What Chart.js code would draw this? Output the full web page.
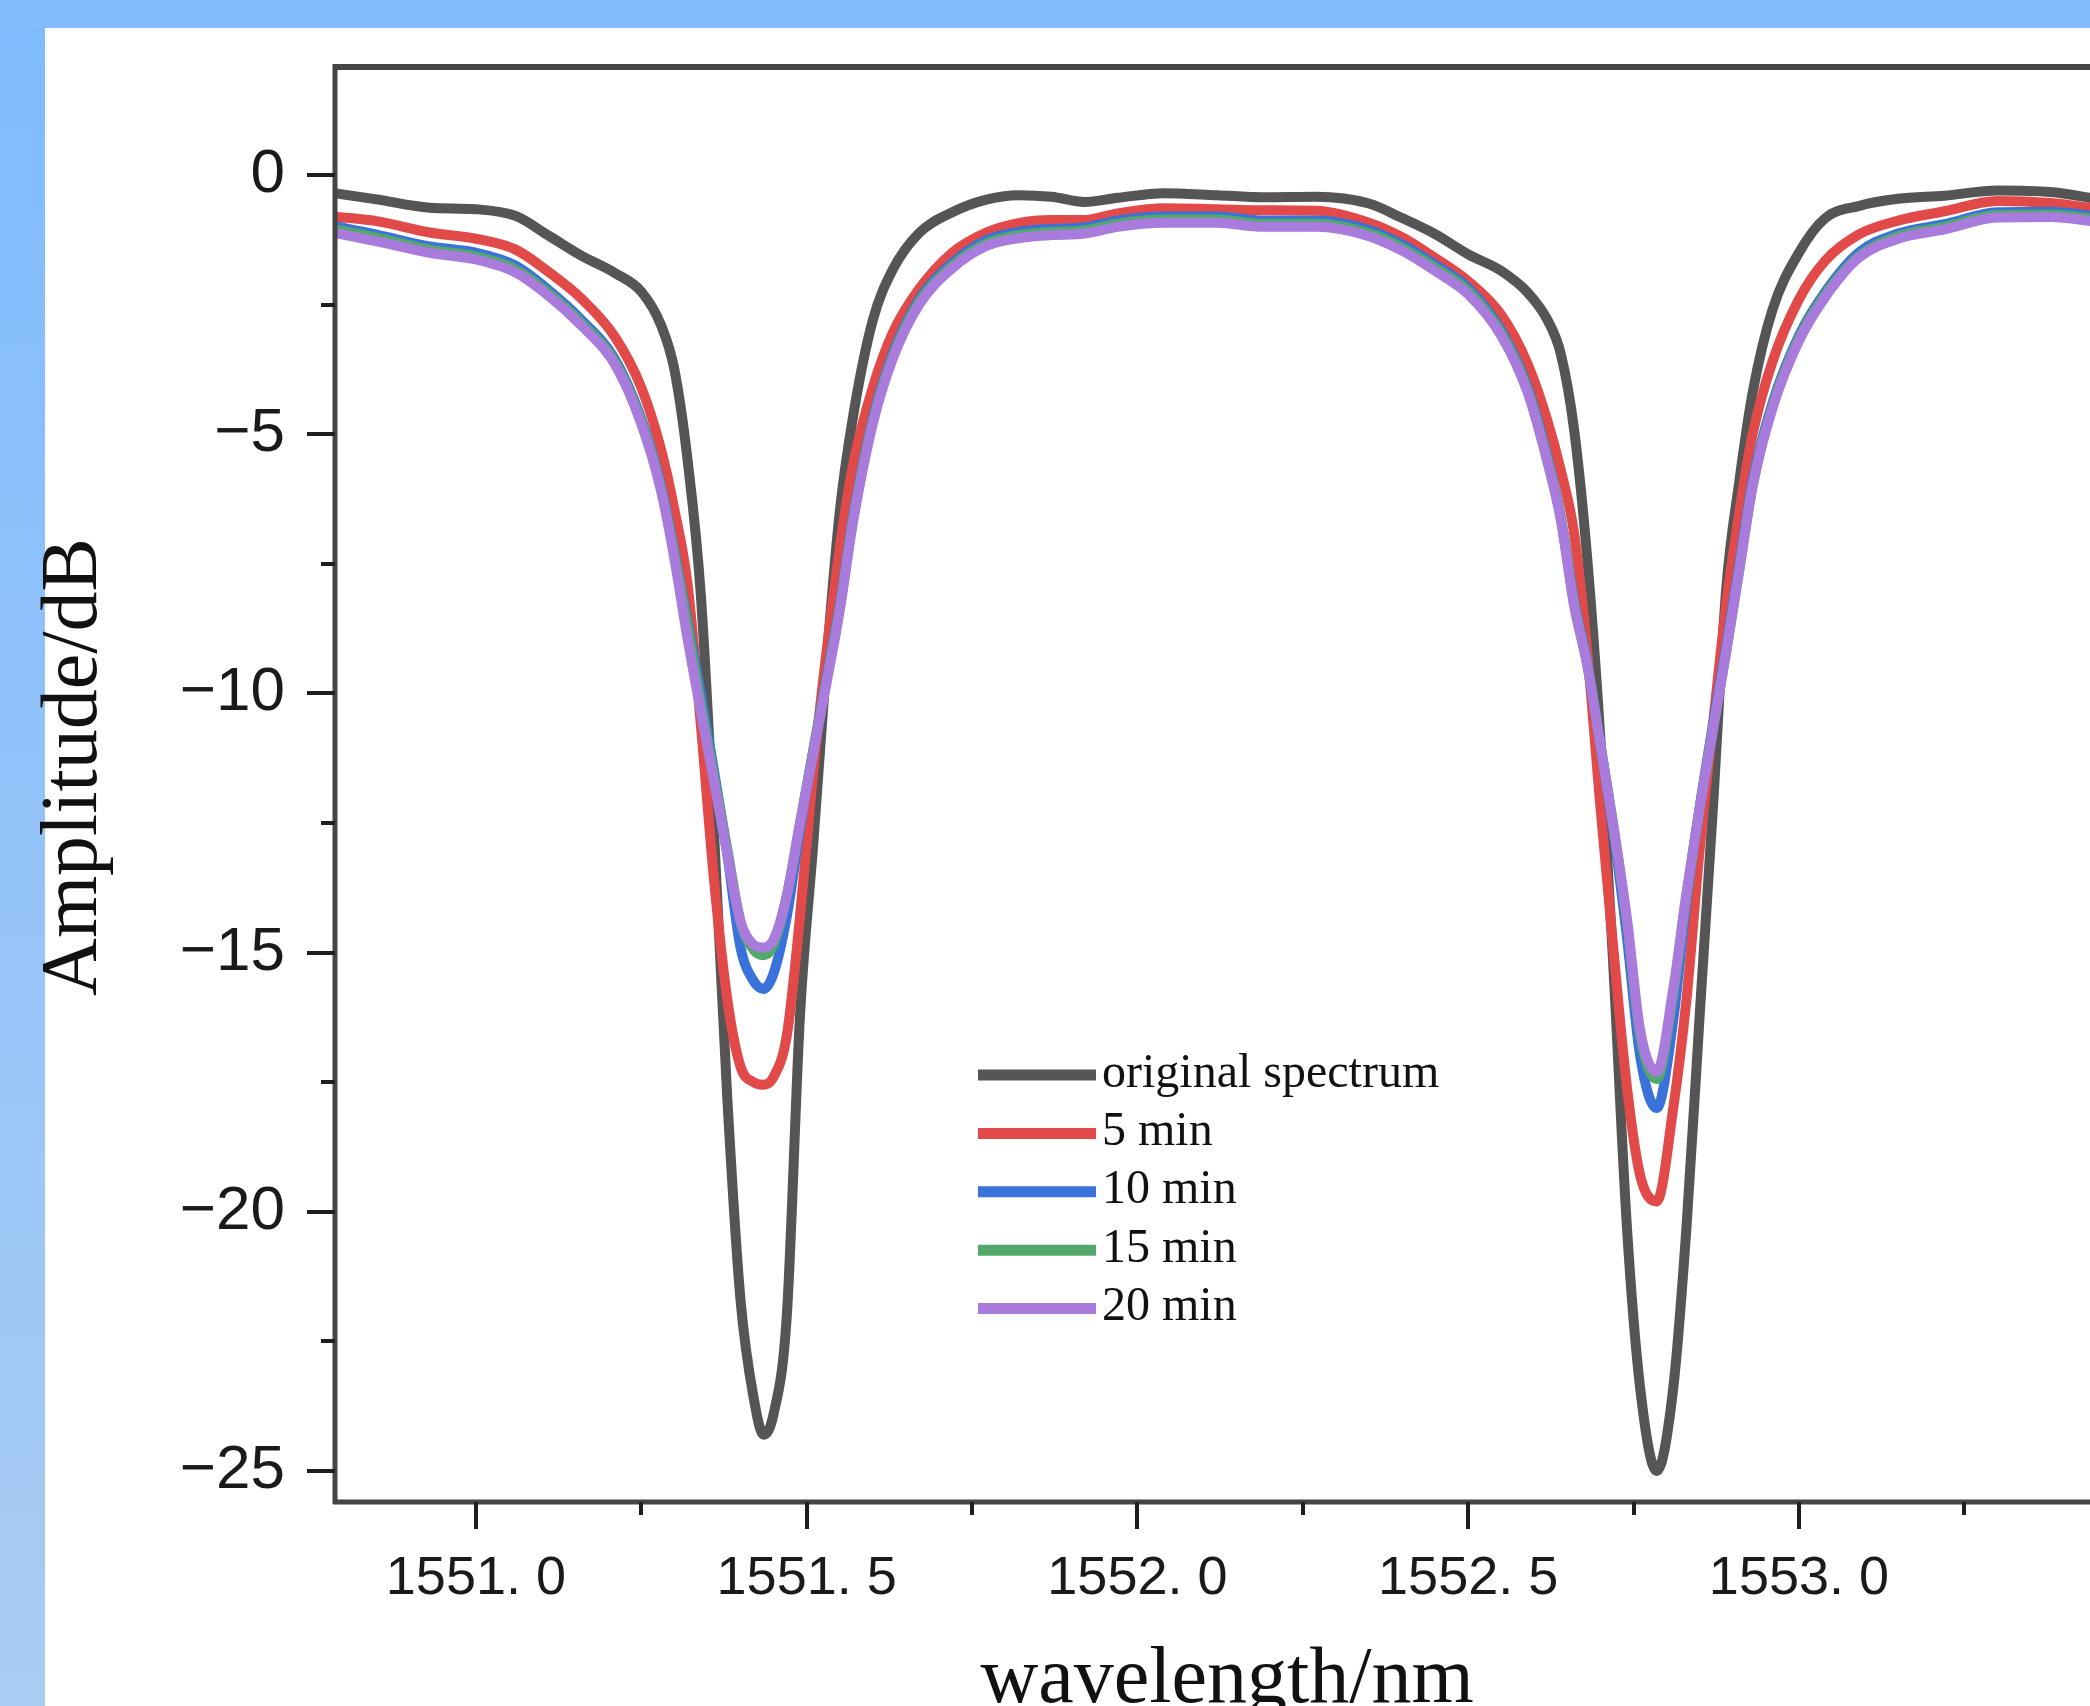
<!DOCTYPE html>
<html>
<head>
<meta charset="utf-8">
<script src="https://cdn.jsdelivr.net/npm/chart.js@4.4.1/dist/chart.umd.min.js"></script>
<style>
  html, body { margin: 0; padding: 0; background: #fff; }
  #chart { display: block; }
</style>
</head>
<body>
<canvas id="chart" width="2090" height="1706"></canvas>
<script>
// wavelength grid (nm), denser around the two dips
const wavelength = [
  1550.78, 1550.85, 1550.93, 1551.00, 1551.06, 1551.11, 1551.16, 1551.21, 1551.25, 1551.28,
  1551.30, 1551.32, 1551.34, 1551.36, 1551.38, 1551.40, 1551.42, 1551.435, 1551.45, 1551.47,
  1551.49, 1551.51, 1551.53, 1551.55, 1551.57, 1551.60, 1551.63, 1551.67, 1551.72, 1551.77,
  1551.82, 1551.87, 1551.92, 1551.97, 1552.04, 1552.12, 1552.19, 1552.27, 1552.35, 1552.40,
  1552.45, 1552.50, 1552.55, 1552.59, 1552.62, 1552.64, 1552.66, 1552.68, 1552.70, 1552.72,
  1552.74, 1552.76, 1552.785, 1552.81, 1552.83, 1552.85, 1552.87, 1552.89, 1552.91, 1552.93,
  1552.96, 1553.00, 1553.04, 1553.09, 1553.15, 1553.22, 1553.30, 1553.38, 1553.45
];

const originalSpectrum = [
  -0.34, -0.47, -0.63, -0.66, -0.79, -1.17, -1.56, -1.89, -2.25, -2.9,
  -3.75, -5.5, -8.1, -12.7, -17.8, -21.7, -23.6, -24.3, -23.9, -22.0,
  -16.2, -12.9, -9.4, -6.5, -4.67, -2.8, -1.83, -1.12, -0.72, -0.48,
  -0.39, -0.42, -0.52, -0.44, -0.35, -0.39, -0.43, -0.42, -0.55, -0.83,
  -1.14, -1.53, -1.85, -2.27, -2.80, -3.45, -4.9, -7.4, -10.9, -15.4,
  -20.3, -23.4, -25.0, -23.4, -20.3, -16.2, -12.2, -8.0, -5.9, -4.2,
  -2.6, -1.5, -0.83, -0.6, -0.46, -0.4, -0.3, -0.33, -0.46
];

const min5 = [
  -0.80, -0.89, -1.11, -1.23, -1.44, -1.87, -2.39, -3.12, -4.1, -5.3,
  -6.45, -7.9, -10.6, -13.6, -15.9, -17.2, -17.5, -17.55, -17.4, -16.6,
  -14.3, -11.5, -9.2, -7.2, -5.6, -4.1, -3.05, -2.2, -1.5, -1.12,
  -0.93, -0.87, -0.87, -0.74, -0.64, -0.66, -0.68, -0.69, -0.92, -1.2,
  -1.6, -2.05, -2.7, -3.65, -4.75, -5.7, -6.9, -9.2, -12.2, -15.0,
  -17.6, -19.3, -19.8, -18.0, -15.9, -13.0, -10.6, -8.3, -6.5, -5.0,
  -3.6, -2.4, -1.65, -1.15, -0.88, -0.7, -0.5, -0.54, -0.65
];

const min10 = [
  -0.97, -1.15, -1.38, -1.50, -1.75, -2.22, -2.80, -3.55, -4.7, -6.0,
  -7.25, -8.6, -10.0, -11.5, -13.1, -14.9, -15.55, -15.7, -15.4, -14.3,
  -12.6, -11.1, -9.7, -8.3, -6.6, -4.7, -3.45, -2.4, -1.7, -1.27,
  -1.1, -1.04, -1.01, -0.88, -0.8, -0.8, -0.88, -0.88, -1.06, -1.34,
  -1.73, -2.18, -3.0, -4.1, -5.45, -6.6, -8.2, -9.4, -11.0, -12.7,
  -14.7, -17.0, -18.0, -16.3, -14.0, -12.2, -10.6, -9.1, -7.5, -5.9,
  -4.4, -3.1, -2.25, -1.5, -1.13, -0.95, -0.72, -0.71, -0.8
];

const min15 = [
  -1.03, -1.21, -1.44, -1.57, -1.82, -2.28, -2.86, -3.6, -4.75, -6.05,
  -7.3, -8.7, -10.2, -11.6, -13.0, -14.4, -14.95, -15.05, -14.85, -13.9,
  -12.5, -11.1, -9.75, -8.35, -6.65, -4.75, -3.5, -2.45, -1.75, -1.33,
  -1.16, -1.1, -1.07, -0.94, -0.86, -0.86, -0.94, -0.94, -1.12, -1.4,
  -1.79, -2.24, -3.05, -4.15, -5.5, -6.62, -8.25, -9.45, -11.0, -12.6,
  -14.4, -16.6, -17.44, -15.8, -13.9, -12.2, -10.7, -9.2, -7.6, -6.0,
  -4.45, -3.15, -2.3, -1.57, -1.18, -1.0, -0.77, -0.76, -0.85
];

const min20 = [
  -1.10, -1.28, -1.50, -1.63, -1.88, -2.33, -2.91, -3.65, -4.8, -6.1,
  -7.4, -8.95, -10.35, -11.7, -13.1, -14.4, -14.85, -14.9, -14.75, -13.9,
  -12.5, -11.15, -9.8, -8.4, -6.7, -4.8, -3.55, -2.5, -1.8, -1.38,
  -1.22, -1.16, -1.13, -1.0, -0.92, -0.92, -1.0, -1.0, -1.18, -1.46,
  -1.85, -2.3, -3.1, -4.2, -5.55, -6.65, -8.3, -9.45, -11.0, -12.6,
  -14.35, -16.5, -17.3, -15.7, -13.85, -12.2, -10.7, -9.2, -7.6, -6.0,
  -4.5, -3.2, -2.35, -1.6, -1.23, -1.05, -0.82, -0.81, -0.9
];

const seriesNames = ['original spectrum', '5 min', '10 min', '15 min', '20 min'];
const seriesValues = [originalSpectrum, min5, min10, min15, min20];
const seriesColors = ['#555555', '#e24a4a', '#3a72dc', '#53a86b', '#a87bdc'];

const xMajor = [1551.0, 1551.5, 1552.0, 1552.5, 1553.0];
const xMinor = [1551.25, 1551.75, 1552.25, 1552.75, 1553.25];
const yMajor = [-25, -20, -15, -10, -5, 0];
const yMinor = [-22.5, -17.5, -12.5, -7.5, -2.5];

const xTitle = 'wavelength/nm';
const yTitle = 'Amplitude/dB';

const datasets = seriesValues.map((vals, i) => ({
  label: seriesNames[i],
  data: wavelength.map((w, k) => ({ x: w, y: vals[k] })),
  borderColor: seriesColors[i],
  borderWidth: 10,
  pointRadius: 0,
  fill: false,
  cubicInterpolationMode: 'monotone',
  borderJoinStyle: 'round',
  order: seriesValues.length - i   // later series drawn on top
}));

// blue frame, axes box, tick marks, axis titles and in-plot legend
const framePlugin = {
  id: 'frame',
  beforeDraw(chart) {
    const { ctx, width, height } = chart;
    ctx.save();
    const g = ctx.createLinearGradient(0, 0, 0, height);
    g.addColorStop(0, '#7fbbff');
    g.addColorStop(1, '#a9ccf2');
    ctx.fillStyle = g;
    ctx.fillRect(0, 0, width, height);
    ctx.fillStyle = '#80bcff';
    ctx.fillRect(0, 0, width, 28);
    ctx.fillStyle = '#ffffff';
    ctx.fillRect(45, 28, width - 45, height - 28);
    ctx.restore();
  },
  afterDatasetsDraw(chart) {
    const { ctx, chartArea: a, scales: { x, y } } = chart;
    ctx.save();
    ctx.strokeStyle = '#454545';
    ctx.lineCap = 'butt';

    ctx.lineWidth = 6;
    ctx.beginPath();
    ctx.moveTo(a.left - 2, a.top);
    ctx.lineTo(a.right, a.top);
    ctx.stroke();

    ctx.lineWidth = 5;
    ctx.beginPath();
    ctx.moveTo(a.left, a.top - 3);
    ctx.lineTo(a.left, a.bottom + 2);
    ctx.moveTo(a.left - 2, a.bottom);
    ctx.lineTo(a.right, a.bottom);
    ctx.stroke();

    ctx.strokeStyle = '#1e1e1e';
    ctx.lineWidth = 4;
    ctx.beginPath();
    yMajor.forEach(v => {
      const p = Math.round(y.getPixelForValue(v));
      ctx.moveTo(a.left, p); ctx.lineTo(a.left - 28, p);
    });
    yMinor.forEach(v => {
      const p = Math.round(y.getPixelForValue(v));
      ctx.moveTo(a.left, p); ctx.lineTo(a.left - 14, p);
    });
    xMajor.forEach(v => {
      const p = Math.round(x.getPixelForValue(v));
      ctx.moveTo(p, a.bottom); ctx.lineTo(p, a.bottom + 27);
    });
    xMinor.forEach(v => {
      const p = Math.round(x.getPixelForValue(v));
      if (p < a.right) { ctx.moveTo(p, a.bottom); ctx.lineTo(p, a.bottom + 13); }
    });
    ctx.stroke();
    ctx.restore();
  },
  afterDraw(chart) {
    const { ctx } = chart;
    ctx.save();

    // axis titles
    ctx.fillStyle = '#111111';
    ctx.font = '80px "Liberation Serif"';
    ctx.textAlign = 'center';
    ctx.textBaseline = 'middle';
    ctx.fillText(xTitle, 1227, 1681);
    ctx.save();
    ctx.translate(75, 767);
    ctx.rotate(-Math.PI / 2);
    ctx.fillText(yTitle, 0, 0);
    ctx.restore();

    // legend
    ctx.font = '48px "Liberation Serif"';
    ctx.textAlign = 'left';
    chart.data.datasets.forEach((ds, i) => {
      const yy = 1075 + i * 58.4;
      ctx.strokeStyle = ds.borderColor;
      ctx.lineWidth = 11;
      ctx.beginPath();
      ctx.moveTo(978, yy);
      ctx.lineTo(1096, yy);
      ctx.stroke();
      ctx.fillStyle = '#111111';
      ctx.fillText(ds.label, 1102, yy - 1);
    });
    ctx.restore();
  }
};

new Chart(document.getElementById('chart'), {
  type: 'line',
  data: { datasets },
  plugins: [framePlugin],
  options: {
    responsive: false,
    devicePixelRatio: 1,
    animation: false,
    events: [],
    layout: { padding: { top: 67, right: 0, bottom: 0, left: 0 } },
    plugins: { legend: { display: false }, tooltip: { enabled: false } },
    scales: {
      x: {
        type: 'linear',
        min: 1550.787,
        max: 1553.44,
        afterBuildTicks: s => { s.ticks = xMajor.map(v => ({ value: v })); },
        afterFit: s => { s.height = 204; s.paddingLeft = 0; s.paddingRight = 0; },
        grid: { display: false, drawTicks: false },
        border: { display: false },
        ticks: {
          autoSkip: false,
          maxRotation: 0,
          padding: 45,
          color: '#1a1a1a',
          font: { family: 'Liberation Sans', size: 54 },
          callback: v => v.toFixed(1).replace('.', '. ')
        },
        title: { display: false }
      },
      y: {
        type: 'linear',
        min: -25.598,
        max: 2.083,
        afterBuildTicks: s => { s.ticks = yMajor.map(v => ({ value: v })); },
        afterFit: s => { s.width = 335; s.paddingTop = 0; s.paddingBottom = 0; },
        grid: { display: false, drawTicks: false },
        border: { display: false },
        ticks: {
          padding: 50,
          color: '#1a1a1a',
          font: { family: 'Liberation Sans', size: 62 },
          callback: v => (v < 0 ? '\u2212' + Math.abs(v) : String(v))
        },
        title: { display: false }
      }
    }
  }
});
</script>
</body>
</html>
